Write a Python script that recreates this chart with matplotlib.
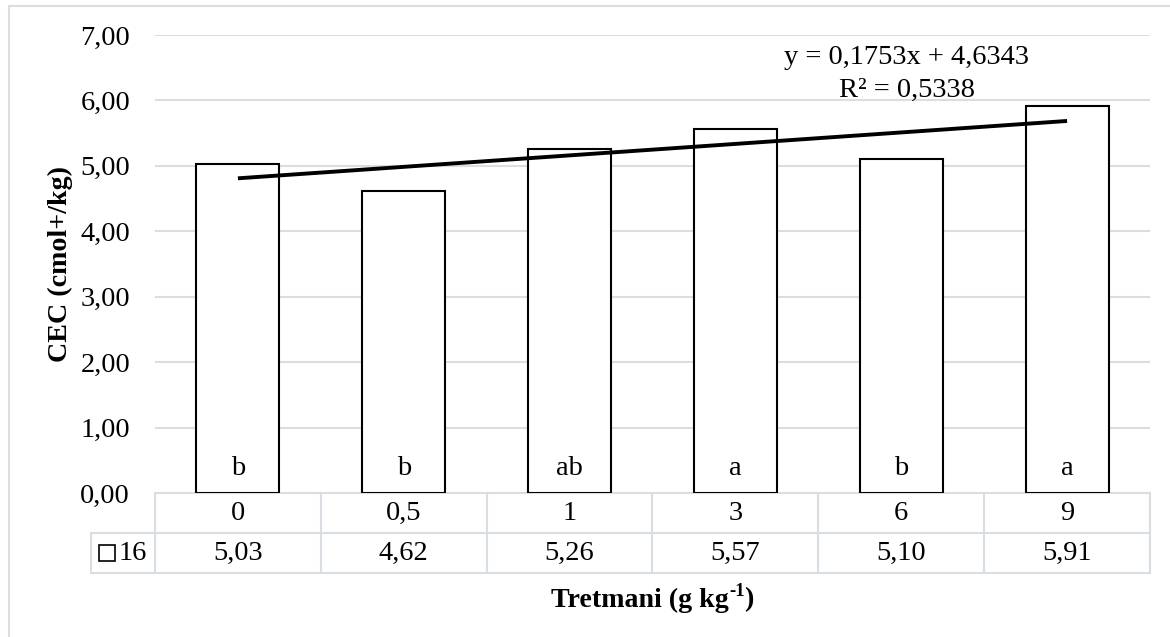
import matplotlib.pyplot as plt
import matplotlib.transforms as mtransforms
from matplotlib.patches import Rectangle
from matplotlib.lines import Line2D

# data
categories = ["0", "0,5", "1", "3", "6", "9"]
values = [5.03, 4.62, 5.26, 5.57, 5.10, 5.91]
letters = ["b", "b", "ab", "a", "b", "a"]
series_name = "16"
slope, intercept = 0.1753, 4.6343
r2 = 0.5338
yticks = [0, 1, 2, 3, 4, 5, 6, 7]

W, H = 1170, 637
plt.rcParams['font.family'] = ['Liberation Serif', 'DejaVu Serif']
FS = 20.5
TFS = 20.2
grid = '#d9dde4'


def fx(px):
    return px / W


def fy(py):
    return 1 - py / H


fig = plt.figure(figsize=(W / 100, H / 100), dpi=100)

# plot area in pixels
left, right, top, bottom = 155, 1150, 35, 493
ax = fig.add_axes([fx(left), fy(bottom), (right - left) / W, (bottom - top) / H])

x = list(range(len(values)))
ax.bar(x, values, width=0.5, facecolor='white', edgecolor='black', linewidth=1.5, zorder=3)
trend = [slope * (i + 1) + intercept for i in x]
ax.plot(x, trend, color='black', lw=2.8, zorder=4, solid_capstyle='butt')
for i, l in zip(x, letters):
    ax.text(i, 0.38, l, ha='center', va='center', fontsize=FS, zorder=5)

ax.set_xlim(-0.5, len(values) - 0.5)
ax.set_ylim(0, 7)
ax.set_yticks(yticks)
ax.set_yticklabels([f"{v:.2f}".replace('.', ',') for v in yticks], fontsize=FS)
ax.tick_params(axis='y', length=0, pad=18)
ax.set_xticks([])
for s in ax.spines.values():
    s.set_visible(False)
for v in yticks[1:]:
    ax.axhline(v, color=grid, lw=1.5, zorder=1)

# trendline equation
fig.text(fx(907), fy(58), f"y = {slope:.4f}x + {intercept:.4f}".replace('.', ','),
         ha='center', va='center', fontsize=FS)
fig.text(fx(907), fy(90), f"R² = {r2:.4f}".replace('.', ','),
         ha='center', va='center', fontsize=FS)

# data table under the axis
tr = mtransforms.blended_transform_factory(ax.transData, fig.transFigure)
col_w = (right - left) / len(values)
label_left = -0.5 - (left - 91) / col_w
xr = len(values) - 0.5
rows = [493, 533, 573]


def tline(xs, ys):
    ax.plot(xs, [fy(p) for p in ys], transform=tr, color=grid, lw=1.5,
            clip_on=False, zorder=2)


tline([-0.5, xr], [rows[0], rows[0]])
tline([label_left, xr], [rows[1], rows[1]])
tline([label_left, xr], [rows[2], rows[2]])
tline([label_left, label_left], [rows[1], rows[2]])
for k in range(len(values) + 1):
    tline([k - 0.5, k - 0.5], [rows[0], rows[2]])

for i, (c, v) in enumerate(zip(categories, values)):
    ax.text(i, fy(513), c, transform=tr, ha='center', va='center', fontsize=FS)
    ax.text(i, fy(553), f"{v:.2f}".replace('.', ','), transform=tr,
            ha='center', va='center', fontsize=FS)

fig.add_artist(Rectangle((fx(99), fy(561)), 16 / W, 16 / H, transform=fig.transFigure,
                         facecolor='white', edgecolor='black', lw=1.2))
fig.text(fx(119), fy(553), series_name, ha='left', va='center', fontsize=FS)

# axis titles
fig.text(fx(60), fy(264), "CEC (cmol+/kg)", rotation=90, ha='center', va='center',
         fontsize=TFS, fontweight='bold')

# x title with a small raised "-1", built from pieces
renderer = fig.canvas.get_renderer()
pieces = [("Tretmani (g kg", TFS, 0), ("-1", 13.5, 7), (")", TFS, 0)]
widths = []
for s, size, _ in pieces:
    t = fig.text(0, 0, s, fontsize=size, fontweight='bold')
    widths.append(t.get_window_extent(renderer).width)
    t.remove()
xpos = 652.5 - sum(widths) / 2
for (s, size, rise), w in zip(pieces, widths):
    fig.text(fx(xpos), fy(597 - rise), s, ha='left', va='center_baseline',
             fontsize=size, fontweight='bold')
    xpos += w

# chart border (left and top visible)
fig.add_artist(Line2D([fx(9), fx(9)], [fy(6), 0], color=grid, lw=1.5))
fig.add_artist(Line2D([fx(9), 1], [fy(6), fy(6)], color=grid, lw=1.5))

fig.savefig("out.png", dpi=100)
